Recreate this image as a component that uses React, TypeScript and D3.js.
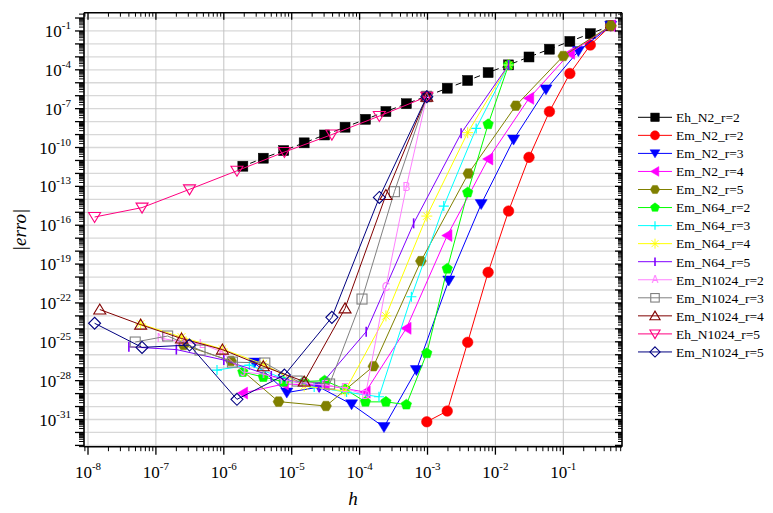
import React from 'react';
import * as d3 from 'd3';

// ---- data (h, |erro|) ----
const hN2r2 = [0.5, 0.25, 0.125, 0.0625, 0.03125, 0.015625, 7.8125e-3, 3.90625e-3, 1.953125e-3, 9.765625e-4,
  4.8828125e-4, 2.44140625e-4, 1.2207031e-4, 6.1035156e-5, 3.0517578e-5, 1.5258789e-5, 7.6293945e-6, 3.8146973e-6, 1.9073486e-6];
const eEhN2r2 = [2.5e-1, 6.2e-2, 1.56e-2, 3.9e-3, 9.8e-4, 2.4e-4, 6.1e-5, 1.5e-5, 3.8e-6, 9.3e-7,
  2.4e-7, 6.0e-8, 1.5e-8, 3.7e-9, 9.3e-10, 2.3e-10, 5.8e-11, 1.5e-11, 3.6e-12];

const hEmN2r2 = [0.5, 0.25, 0.125, 0.0625, 0.03125, 0.015625, 7.8125e-3, 3.90625e-3, 1.953125e-3, 9.765625e-4];
const eEmN2r2 = [2.5e-1, 8.2e-3, 5.2e-5, 6.0e-8, 1.75e-11, 1.25e-15, 2.3e-20, 9.1e-26, 4.5e-31, 6.7e-32];

const hEmN2r3 = [0.5, 0.16667, 0.055556, 0.018519, 6.1728e-3, 2.0576e-3, 6.8587e-4, 2.2862e-4, 7.6208e-5, 2.5403e-5, 8.4675e-6, 2.8225e-6];
const eEmN2r3 = [2.5e-1, 2.8e-3, 3.1e-6, 4.1e-10, 4.3e-15, 5.4e-21, 6.6e-28, 2.6e-32, 1.5e-30, 3.2e-29, 1.2e-29, 2.5e-27];

const hEmN2r4 = [0.5, 0.125, 0.03125, 7.8125e-3, 1.953125e-3, 4.8828e-4, 1.2207e-4, 3.0518e-5, 7.6294e-6, 1.9073e-6];
const eEmN2r4 = [2.5e-1, 1.9e-3, 6.3e-7, 1.3e-11, 1.6e-17, 1.1e-24, 1.3e-29, 4.6e-29, 5.5e-29, 1.1e-29];

const hEmN2r5 = [0.5, 0.1, 0.02, 4e-3, 8e-4, 1.6e-4, 3.2e-5, 6.4e-6, 1.28e-6, 2.56e-7];
const eEmN2r5 = [2.5e-1, 1.16e-3, 1.7e-7, 9.8e-13, 1.7e-19, 1.3e-27, 1.1e-30, 2.4e-30, 3.3e-27, 5.6e-26];

const hEmN64r2 = [0.015625, 7.8125e-3, 3.90625e-3, 1.953125e-3, 9.765625e-4, 4.8828e-4, 2.4414e-4, 1.2207e-4, 6.1035e-5,
  3.0518e-5, 1.5259e-5, 7.6294e-6, 3.8147e-6, 1.9073e-6];
const eEmN64r2 = [2.35e-4, 6.2e-9, 3.35e-14, 4.4e-20, 1.3e-26, 1.4e-30, 2.3e-30, 2.3e-30, 2.2e-29, 1.0e-28, 8.2e-29, 8.2e-29, 1.9e-28, 4.6e-28];

const hEmN64r3 = [0.015625, 5.2083e-3, 1.7361e-3, 5.787e-4, 1.929e-4, 6.43e-5, 2.1433e-5, 7.1445e-6, 2.3815e-6, 7.9383e-7];
const eEmN64r3 = [2.35e-4, 3.0e-9, 3.0e-15, 3.0e-22, 5.7e-30, 1.3e-29, 3.2e-29, 1.6e-28, 1.6e-27, 6.6e-28];

const hEmN64r4 = [0.015625, 3.90625e-3, 9.765625e-4, 2.4414e-4, 6.1035e-5, 1.5259e-5, 3.8147e-6, 9.5367e-7, 2.3842e-7, 5.9605e-8];
const eEmN64r4 = [2.35e-4, 1.4e-9, 5.1e-16, 1.0e-23, 1.6e-29, 3.8e-29, 1.9e-27, 2.75e-26, 2.3e-25, 2.35e-24];

const hEmN64r5 = [0.015625, 3.125e-3, 6.25e-4, 1.25e-4, 2.5e-5, 5e-6, 1e-6, 2e-7, 4e-8];
const eEmN64r5 = [2.35e-4, 1.25e-9, 1.4e-16, 6.0e-25, 3.2e-29, 2.3e-28, 3.9e-27, 2.5e-26, 4.1e-26];

const hEmN1024r2 = [9.765625e-4, 4.8828e-4, 2.4414e-4, 1.2207e-4, 6.1035e-5, 3.0518e-5, 1.5259e-5, 7.6294e-6, 3.8147e-6,
  1.9073e-6, 9.5367e-7, 4.7684e-7, 2.3842e-7, 1.1921e-7];
const eEmN1024r2 = [8.4e-7, 9.4e-14, 1.8e-21, 7.7e-30, 2.7e-29, 4.6e-29, 6.5e-29, 1.1e-28, 3.2e-28, 4.6e-28, 1.6e-26, 6.7e-26, 9.6e-26, 1.9e-25];

const hEmN1024r3 = [9.765625e-4, 3.2552e-4, 1.0851e-4, 3.6169e-5, 1.2056e-5, 4.0188e-6, 1.3396e-6, 4.4653e-7, 1.4884e-7, 4.9614e-8];
const eEmN1024r3 = [8.4e-7, 3.9e-14, 2.0e-22, 5.5e-29, 9.3e-29, 2.3e-27, 2.7e-27, 2.3e-26, 2.8e-25, 9.6e-26];

const hEmN1024r4 = [9.765625e-4, 2.4414e-4, 6.1035e-5, 1.5259e-5, 3.8147e-6, 9.5367e-7, 2.3842e-7, 5.9605e-8, 1.4901e-8];
const eEmN1024r4 = [8.4e-7, 2.15e-14, 3.8e-23, 8.5e-29, 1.3e-27, 2.5e-26, 1.8e-25, 2.1e-24, 3.1e-23];

const hN1024r5 = [9.765625e-4, 1.9531e-4, 3.9063e-5, 7.8125e-6, 1.5625e-6, 3.125e-7, 6.25e-8, 1.25e-8];
const eEhN1024r5 = [8.4e-7, 2.7e-8, 1.0e-9, 4.5e-11, 1.6e-12, 5.9e-14, 2.3e-15, 4.3e-16];
const eEmN1024r5 = [8.4e-7, 1.4e-14, 7.7e-24, 2.7e-28, 3.6e-30, 5.6e-26, 3.7e-26, 2.7e-24];

const xTickExps = [-8, -7, -6, -5, -4, -3, -2, -1];
const yTickExps = [-1, -4, -7, -10, -13, -16, -19, -22, -25, -28, -31];

type Sym = 'square' | 'circle' | 'triDown' | 'triLeft' | 'hexagon' | 'pentagon' | 'plus' | 'star' | 'vbar' |
  'letters' | 'oSquare' | 'oTriUp' | 'oTriDown' | 'oDiamond';

interface Series { name: string; h: number[]; e: number[]; color: string; sym: Sym; dash?: string; }

const series: Series[] = [
  { name: 'Eh_N2_r=2', h: hN2r2, e: eEhN2r2, color: '#000000', sym: 'square', dash: '6,4' },
  { name: 'Em_N2_r=2', h: hEmN2r2, e: eEmN2r2, color: '#ff0000', sym: 'circle' },
  { name: 'Em_N2_r=3', h: hEmN2r3, e: eEmN2r3, color: '#0000ff', sym: 'triDown' },
  { name: 'Em_N2_r=4', h: hEmN2r4, e: eEmN2r4, color: '#ff00ff', sym: 'triLeft' },
  { name: 'Em_N2_r=5', h: hEmN2r5, e: eEmN2r5, color: '#808000', sym: 'hexagon' },
  { name: 'Em_N64_r=2', h: hEmN64r2, e: eEmN64r2, color: '#00ff00', sym: 'pentagon' },
  { name: 'Em_N64_r=3', h: hEmN64r3, e: eEmN64r3, color: '#00ffff', sym: 'plus' },
  { name: 'Em_N64_r=4', h: hEmN64r4, e: eEmN64r4, color: '#ffff00', sym: 'star' },
  { name: 'Em_N64_r=5', h: hEmN64r5, e: eEmN64r5, color: '#8000ff', sym: 'vbar' },
  { name: 'Em_N1024_r=2', h: hEmN1024r2, e: eEmN1024r2, color: '#ff80ff', sym: 'letters' },
  { name: 'Em_N1024_r=3', h: hEmN1024r3, e: eEmN1024r3, color: '#808080', sym: 'oSquare' },
  { name: 'Em_N1024_r=4', h: hEmN1024r4, e: eEmN1024r4, color: '#800000', sym: 'oTriUp' },
  { name: 'Eh_N1024_r=5', h: hN1024r5, e: eEhN1024r5, color: '#ff0080', sym: 'oTriDown' },
  { name: 'Em_N1024_r=5', h: hN1024r5, e: eEmN1024r5, color: '#000080', sym: 'oDiamond' },
];

const L = 84, R = 622, T = 12.7, B = 446.7;
const xScale = d3.scaleLog().domain([Math.pow(10, -8.059), Math.pow(10, -0.1355)]).range([L, R]);
const yScale = d3.scaleLog().domain([Math.pow(10, -33.1), Math.pow(10, 0.41)]).range([B, T]);

const SERIF = '"Liberation Serif", "Times New Roman", serif';

function polygon(n: number, r: number, rot: number) {
  const pts: string[] = [];
  for (let i = 0; i < n; i++) {
    const a = rot + (i * 2 * Math.PI) / n;
    pts.push(`${(r * Math.cos(a)).toFixed(2)},${(r * Math.sin(a)).toFixed(2)}`);
  }
  return 'M' + pts.join('L') + 'Z';
}

function Marker({ sym, color, x, y, s, idx }: { sym: Sym; color: string; x: number; y: number; s: number; idx: number }) {
  const tr = `translate(${x},${y})`;
  const h = s / 2;
  switch (sym) {
    case 'square':
      return <rect x={x - h} y={y - h} width={s} height={s} fill={color} stroke={color} strokeWidth={0.5} />;
    case 'circle':
      return <circle cx={x} cy={y} r={h + 0.3} fill={color} stroke={color} strokeWidth={0.5} />;
    case 'triDown':
      return <path transform={tr} d={`M${-h * 1.15},${-h * 0.85}L${h * 1.15},${-h * 0.85}L0,${h * 1.05}Z`} fill={color} stroke={color} strokeWidth={0.5} />;
    case 'triLeft':
      return <path transform={tr} d={`M${h * 0.9},${-h * 1.15}L${h * 0.9},${h * 1.15}L${-h * 1.05},0Z`} fill={color} stroke={color} strokeWidth={0.5} />;
    case 'hexagon':
      return <path transform={tr} d={polygon(6, h * 1.1, 0)} fill={color} stroke={color} strokeWidth={0.5} />;
    case 'pentagon':
      return <path transform={tr} d={polygon(5, h * 1.1, -Math.PI / 2)} fill={color} stroke={color} strokeWidth={0.5} />;
    case 'plus':
      return <path transform={tr} d={`M${-h},0H${h}M0,${-h}V${h}`} stroke={color} strokeWidth={1.2} fill="none" />;
    case 'star': {
      const d = h * 0.7;
      return <path transform={tr} d={`M${-h},0H${h}M0,${-h}V${h}M${-d},${-d}L${d},${d}M${-d},${d}L${d},${-d}`} stroke={color} strokeWidth={0.9} fill="none" />;
    }
    case 'vbar':
      return <path transform={tr} d={`M0,${-h}V${h}`} stroke={color} strokeWidth={1.6} fill="none" />;
    case 'letters':
      return <text x={x} y={y} dy="0.36em" textAnchor="middle" fontFamily='"Liberation Sans", Arial, sans-serif'
        fontSize={s * 1.25} fill={color}>{String.fromCharCode(65 + idx)}</text>;
    case 'oSquare':
      return <rect x={x - h} y={y - h} width={s} height={s} fill="none" stroke={color} strokeWidth={1.1} />;
    case 'oTriUp':
      return <path transform={tr} d={`M${-h * 1.2},${h * 0.9}L${h * 1.2},${h * 0.9}L0,${-h * 1.1}Z`} fill="none" stroke={color} strokeWidth={1.1} />;
    case 'oTriDown':
      return <path transform={tr} d={`M${-h * 1.2},${-h * 0.9}L${h * 1.2},${-h * 0.9}L0,${h * 1.1}Z`} fill="none" stroke={color} strokeWidth={1.1} />;
    case 'oDiamond':
      return <path transform={tr} d={`M0,${-h * 1.2}L${h * 1.2},0L0,${h * 1.2}L${-h * 1.2},0Z`} fill="none" stroke={color} strokeWidth={1.1} />;
  }
  return null;
}

export default function App() {
  const line = d3.line<[number, number]>().x(d => xScale(d[0])).y(d => yScale(d[1]));

  const xMajor: number[] = [];
  const xMinor: number[] = [];
  for (let n = -9; n <= 0; n++) {
    const v = Math.pow(10, n);
    const px = xScale(v);
    if (px >= L - 0.5 && px <= R + 0.5) xMajor.push(px);
    for (let k = 2; k <= 9; k++) {
      const p = xScale(k * v);
      if (p >= L && p <= R) xMinor.push(p);
    }
  }
  const yMajor: number[] = [];
  const yMinor: number[] = [];
  for (let n = -34; n <= 0; n++) {
    const v = Math.pow(10, n);
    const py = yScale(v);
    if (py >= T - 0.5 && py <= B + 0.5) yMajor.push(py);
    for (let k = 2; k <= 9; k++) {
      const p = yScale(k * v);
      if (p >= T && p <= B) yMinor.push(p);
    }
  }

  const legendY0 = 117.3, legendDy = 18.05;

  return (
    <svg width={773} height={513} style={{ position: 'absolute', left: 0, top: 0, background: '#fff' }}>
      <rect x={0} y={0} width={773} height={513} fill="#fff" />
      {/* grid */}
      <g>
        {yMajor.map((py, i) => (
          <line key={'gy' + i} x1={L} x2={R} y1={py} y2={py} stroke="#d8d8d8" strokeWidth={1.3} />
        ))}
        {xMajor.map((px, i) => (
          <line key={'gx' + i} x1={px} x2={px} y1={T} y2={B} stroke="#c4c4c4" strokeWidth={1} />
        ))}
      </g>
      {/* series */}
      <g>
        {series.map((s, si) => {
          const pts = s.h.map((hv, i) => [hv, s.e[i]] as [number, number]);
          const size = s.sym === 'triDown' || s.sym === 'triLeft' ? 10.5 : s.sym === 'letters' ? 9.5 : s.sym === 'star' ? 11 : 10;
          return (
            <g key={'s' + si}>
              <path d={line(pts) || ''} fill="none" stroke={s.color} strokeWidth={1} strokeDasharray={s.dash} />
              {pts.map((p, i) => (
                <Marker key={i} sym={s.sym} color={s.color} x={xScale(p[0])} y={yScale(p[1])} s={size} idx={i} />
              ))}
            </g>
          );
        })}
      </g>
      {/* axes frame */}
      <g stroke="#000" fill="none">
        <line x1={L} x2={R} y1={B} y2={B} strokeWidth={1.6} />
        <line x1={L} x2={R} y1={T} y2={T} strokeWidth={1.6} />
        <line x1={L} x2={L} y1={T} y2={B} strokeWidth={1.6} />
        <line x1={R} x2={R} y1={T} y2={B} strokeWidth={1.6} />
        {xMajor.map((px, i) => (
          <g key={'xm' + i}>
            <line x1={px} x2={px} y1={B} y2={B + 8} strokeWidth={1.3} />
            <line x1={px} x2={px} y1={T} y2={T + 7} strokeWidth={1.3} />
          </g>
        ))}
        {xMinor.map((px, i) => (
          <g key={'xn' + i}>
            <line x1={px} x2={px} y1={B} y2={B + 4.5} strokeWidth={1} />
            <line x1={px} x2={px} y1={T} y2={T + 4} strokeWidth={1} />
          </g>
        ))}
        {yMajor.map((py, i) => (
          <g key={'ym' + i}>
            <line x1={L - 9} x2={L} y1={py} y2={py} strokeWidth={1.3} />
            <line x1={R - 7} x2={R} y1={py} y2={py} strokeWidth={1.3} />
          </g>
        ))}
        {yMinor.map((py, i) => (
          <g key={'yn' + i}>
            <line x1={L - 5} x2={L} y1={py} y2={py} strokeWidth={1} />
            <line x1={R - 4} x2={R} y1={py} y2={py} strokeWidth={1} />
          </g>
        ))}
      </g>
      {/* tick labels */}
      <g fontFamily={SERIF} fill="#000">
        {xTickExps.map(n => (
          <text key={'xl' + n} x={xScale(Math.pow(10, n))} y={478} textAnchor="middle" fontSize={17}>
            10<tspan dy={-8} fontSize={11}>{n}</tspan>
          </text>
        ))}
        {yTickExps.map(n => (
          <text key={'yl' + n} x={71} y={yScale(Math.pow(10, n)) + 6} textAnchor="end" fontSize={17}>
            10<tspan dy={-8} fontSize={11}>{n}</tspan>
          </text>
        ))}
      </g>
      {/* axis titles */}
      <text x={353} y={505} textAnchor="middle" fontFamily={SERIF} fontStyle="italic" fontSize={19}>h</text>
      <text transform="translate(26,230) rotate(-90)" textAnchor="middle" fontFamily={SERIF} fontStyle="italic" fontSize={19}>|erro|</text>
      {/* legend */}
      <g>
        {series.map((s, i) => {
          const y = legendY0 + i * legendDy;
          return (
            <g key={'lg' + i}>
              <line x1={638} x2={672} y1={y} y2={y} stroke={s.color} strokeWidth={1} />
              <Marker sym={s.sym} color={s.color} x={655} y={y} s={s.sym === 'letters' ? 8 : s.sym === 'star' ? 10 : 8.5} idx={0} />
              <text x={676} y={y + 4.8} fontFamily={SERIF} fontSize={13.5} fill="#000">{s.name}</text>
            </g>
          );
        })}
      </g>
    </svg>
  );
}
